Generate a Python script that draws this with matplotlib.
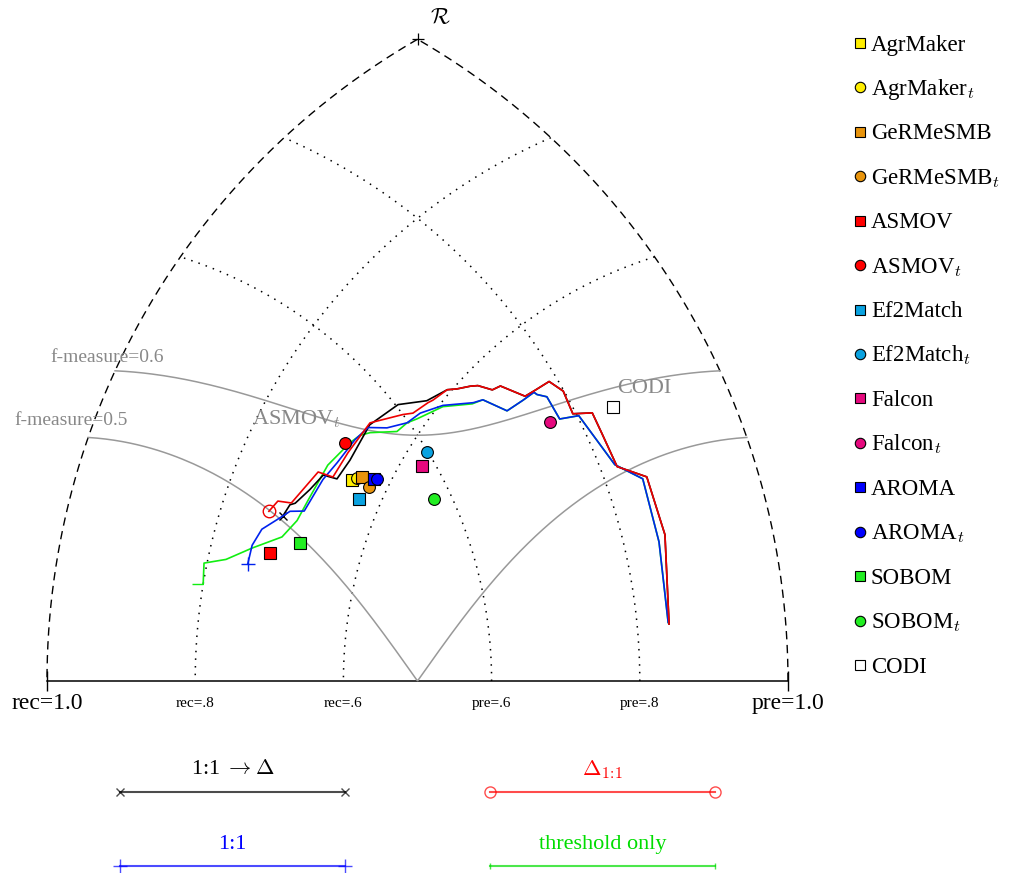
import numpy as np
import matplotlib
matplotlib.use("Agg")
import matplotlib.pyplot as plt

plt.rcParams['font.family'] = ['Liberation Serif', 'DejaVu Serif']
plt.rcParams['mathtext.fontset'] = 'cm'

# systems: (precision, recall)
systems = ["AgrMaker", "AgrMaker$_t$", "GeRMeSMB", "GeRMeSMB$_t$", "ASMOV", "ASMOV$_t$",
           "Ef2Match", "Ef2Match$_t$", "Falcon", "Falcon$_t$", "AROMA", "AROMA$_t$",
           "SOBOM", "SOBOM$_t$", "CODI"]
sys_prec = [0.493, 0.500, 0.507, 0.508, 0.347, 0.515, 0.487, 0.599, 0.583, 0.763,
            0.519, 0.522, 0.389, 0.577, 0.848]
sys_rec = [0.648, 0.643, 0.637, 0.623, 0.720, 0.678, 0.629, 0.577, 0.573, 0.475,
           0.621, 0.618, 0.684, 0.537, 0.439]
sys_marker = ['s', 'o'] * 7 + ['s']
sys_color = ['#ffee00', '#ffee00', '#e8940c', '#e8940c', '#ff0000', '#ff0000',
             '#0aa2e0', '#0aa2e0', '#e6097e', '#e6097e', '#0000ff', '#0000ff',
             '#22ee22', '#22ee22', 'white']

# threshold curves
delta_tail_prec = [0.679, 0.696, 0.705, 0.718, 0.730, 0.751, 0.767, 0.789, 0.799, 0.796,
                   0.820, 0.820, 0.822, 0.855, 0.857, 0.843]
delta_tail_rec = [0.596, 0.585, 0.578, 0.560, 0.556, 0.523, 0.520, 0.517, 0.495, 0.463,
                  0.448, 0.418, 0.370, 0.335, 0.258, 0.178]
red_prec = [0.377, 0.395, 0.408, 0.462, 0.474, 0.510, 0.558, 0.600, 0.612, 0.637, 0.644, 0.668]
red_rec = [0.737, 0.730, 0.712, 0.694, 0.673, 0.669, 0.663, 0.632, 0.622, 0.614, 0.611, 0.605]
black_prec = [0.389, 0.405, 0.412, 0.439, 0.465, 0.477, 0.506, 0.556, 0.603, 0.637, 0.668]
black_rec = [0.717, 0.713, 0.707, 0.695, 0.686, 0.667, 0.662, 0.662, 0.645, 0.617, 0.605]

one_tail_prec = [0.700, 0.720, 0.746, 0.764, 0.766, 0.776, 0.777, 0.802, 0.820, 0.849, 0.847, 0.842]
one_tail_rec = [0.560, 0.526, 0.521, 0.519, 0.514, 0.503, 0.469, 0.456, 0.374, 0.336, 0.256, 0.180]
blue_prec = [0.314, 0.332, 0.355, 0.384, 0.400, 0.416, 0.461, 0.490, 0.528, 0.552, 0.572,
             0.598, 0.620, 0.651, 0.687]
blue_rec = [0.746, 0.746, 0.739, 0.720, 0.710, 0.692, 0.684, 0.676, 0.669, 0.662, 0.640,
            0.621, 0.614, 0.596, 0.567]
green_prec = [0.248, 0.265, 0.292, 0.330, 0.372, 0.401, 0.429, 0.478, 0.520, 0.537, 0.550,
              0.580, 0.598, 0.612, 0.650, 0.685]
green_rec = [0.800, 0.804, 0.776, 0.745, 0.710, 0.697, 0.692, 0.686, 0.673, 0.666, 0.656,
             0.626, 0.621, 0.613, 0.595, 0.567]

fmeasures = [0.5, 0.6]
grid_levels = [0.6, 0.8]


def tri(p, r):
    # point at distance p from the rec=1.0 corner and r from the pre=1.0 corner
    p = np.asarray(p, float)
    r = np.asarray(r, float)
    x = (p ** 2 - r ** 2 + 1) / 2
    y = np.sqrt(np.clip(p ** 2 - x ** 2, 0, None))
    return x, y


def arc(cx, rad, a0, a1):
    t = np.linspace(a0, a1, 300)
    return cx + rad * np.cos(t), rad * np.sin(t)


fig = plt.figure(figsize=(10.11, 8.73), dpi=100)
ax = fig.add_axes([0, 0, 1, 1])
S = 741.0
ax.set_xlim(-47 / S, 964 / S)
ax.set_ylim(-192 / S, 681 / S)
ax.axis('off')

# outer frame
ax.plot(*arc(1, 1, np.pi * 2 / 3, np.pi), color='k', lw=1, ls=(0, (6, 4)))
ax.plot(*arc(0, 1, 0, np.pi / 3), color='k', lw=1, ls=(0, (6, 4)))
ax.plot([0, 1], [0, 0], color='k', lw=1.1)
ax.plot([0, 1], [0, 0], ls='none', marker='|', ms=14, mew=1, color='k')
ax.plot([0.5], [np.sqrt(3) / 2], ls='none', marker='+', ms=9, mew=0.9, color='k')
ax.text(0.517, 0.893, r'$\mathcal{R}$', fontsize=16, ha='left', va='center')

# recall / precision grid arcs
for lv in grid_levels:
    ex, ey = tri(1, lv)
    ax.plot(*arc(1, lv, np.arctan2(ey, ex - 1), np.pi), color='k', lw=1.1, ls=(0, (1, 4)))
    ex, ey = tri(lv, 1)
    ax.plot(*arc(0, lv, 0, np.arctan2(ey, ex)), color='k', lw=1.1, ls=(0, (1, 4)))

# f-measure isolines
for f in fmeasures:
    p = np.linspace(f / (2 - f), 1, 500)
    r = f * p / (2 * p - f)
    ax.plot(*tri(p, r), color='#999999', lw=1.1)

ax.text(0.004, 0.437, 'f-measure=0.6', fontsize=14, color='#888888', va='center')
ax.text(-0.044, 0.351, 'f-measure=0.5', fontsize=14, color='#888888', va='center')
ax.text(0.277, 0.354, 'ASMOV$_t$', fontsize=16, color='#888888', va='center')
ax.text(0.769, 0.395, 'CODI', fontsize=16, color='#888888', va='center')

# base labels
ax.text(0, -0.030, 'rec=1.0', fontsize=17, ha='center', va='center')
ax.text(1, -0.030, 'pre=1.0', fontsize=17, ha='center', va='center')
for lv in grid_levels:
    ax.text(1 - lv, -0.030, 'rec=.%d' % round(lv * 10), fontsize=11, ha='center', va='center')
    ax.text(lv, -0.030, 'pre=.%d' % round(lv * 10), fontsize=11, ha='center', va='center')

# curves
curves = [
    (green_prec + one_tail_prec, green_rec + one_tail_rec, '#11ee11', 0, 8),
    (black_prec + delta_tail_prec, black_rec + delta_tail_rec, 'black', 'x', 6),
    (blue_prec + one_tail_prec, blue_rec + one_tail_rec, '#0022ee', '+', 10),
    (red_prec + delta_tail_prec, red_rec + delta_tail_rec, '#ee0000', 'o', 9),
]
for cp, cr, col, mk, ms in curves:
    ax.plot(*tri(cp, cr), color=col, lw=1.2, marker=mk, markevery=[0], ms=ms,
            mfc='none', mec=col, mew=1)

# systems
for i in range(len(systems)):
    x, y = tri(sys_prec[i], sys_rec[i])
    ax.plot([x], [y], ls='none', marker=sys_marker[i], ms=8.5 if sys_marker[i] == 'o' else 8,
            mfc=sys_color[i], mec='k', mew=0.8, zorder=4)

# system legend
for i, name in enumerate(systems):
    ym = 43 + i * 44.43
    ax.plot([860 / 1011], [1 - ym / 873], transform=ax.transAxes, ls='none',
            marker=sys_marker[i], ms=7.5, mfc=sys_color[i], mec='k', mew=0.8)
    ax.text(871 / 1011, 1 - (ym + 7.5) / 873, name, transform=ax.transAxes,
            fontsize=16.5, va='baseline', ha='left')

# curve legend
samples = [
    (0.25, -0.150, r'1:1 $\rightarrow\Delta$', 'black', 'x', 6),
    (0.75, -0.150, r'$\Delta_{1\!:\!1}$', '#ff0000', 'o', 8),
    (0.25, -0.250, '1:1', '#0000ff', '+', 10),
    (0.75, -0.250, 'threshold only', '#00dd00', '|', 4),
]
for cx, cy, lab, col, mk, ms in samples:
    ax.plot([cx - 0.152, cx + 0.152], [cy, cy], color=col, lw=1.5, alpha=0.7,
            marker=mk, ms=ms, mfc='none', mew=1)
    ax.text(cx, cy + 0.03, lab, color=col, fontsize=16, ha='center', va='center')

fig.savefig('out.png', dpi=100)
